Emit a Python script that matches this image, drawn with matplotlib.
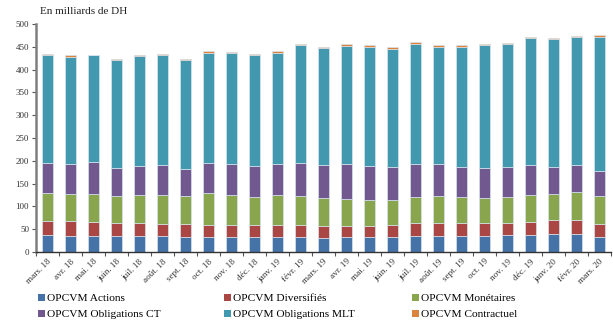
import matplotlib
matplotlib.use("Agg")
import matplotlib.pyplot as plt
import numpy as np

plt.rcParams['font.family'] = ['Liberation Serif', 'DejaVu Serif']

months = ["mars. 18", "avr. 18", "mai. 18", "juin. 18", "juil. 18", "août. 18",
          "sept. 18", "oct. 18", "nov. 18", "déc. 18", "janv. 19", "févr. 19",
          "mars. 19", "avr. 19", "mai. 19", "juin. 19", "juil. 19", "août. 19",
          "sept. 19", "oct. 19", "nov. 19", "déc. 19", "janv. 20", "févr. 20",
          "mars. 20"]

actions = [37, 36, 36, 35, 34, 34, 33, 32, 32, 32, 32, 32, 30, 32, 32, 32, 35,
           36, 35, 35, 37, 37.6, 39, 40.5, 32]
diversifies = [30, 31, 30, 29, 29, 28, 29, 28, 28, 27, 27, 28, 28, 25, 25, 26.6,
               28, 27, 28, 28, 27.4, 29, 30.5, 30.5, 29]
monetaires = [62, 61, 62, 58, 62, 63, 60, 69, 66, 61, 65.6, 62, 60, 60, 56, 56.4,
              57, 59, 57, 56.5, 57.3, 59.4, 58, 60, 62]
oblig_ct = [66, 65, 69, 62, 63, 66, 60, 67, 68, 68, 69.4, 73, 72, 76, 75, 71,
            73.4, 70, 66, 64.5, 63.7, 64.5, 58.5, 58.8, 54.5]
oblig_mlt = [237.5, 235, 234.8, 237, 242.5, 241.5, 239, 240, 242, 244, 242, 258.5,
             257, 259, 261, 260, 262.3, 258.5, 264.5, 271, 271.1, 278.5, 280.6,
             281.9, 294.9]
contractuel = [2.5, 3, 1.2, 2, 2, 2.5, 2, 4, 2, 2.5, 4, 3, 3.5, 4.5, 4, 4.5,
               5.1, 4.5, 3, 2, 2.5, 2, 3.4, 2.8, 3.6]

series = [
    ("OPCVM Actions", actions, "#4572A7"),
    ("OPCVM Diversifiés", diversifies, "#AA4643"),
    ("OPCVM Monétaires", monetaires, "#89A54E"),
    ("OPCVM Obligations CT", oblig_ct, "#71588F"),
    ("OPCVM Obligations MLT", oblig_mlt, "#4198AF"),
    ("OPCVM Contractuel", contractuel, "#DB843D"),
]

fig = plt.figure(figsize=(6.13, 3.25), dpi=100)
ax = fig.add_axes([36 / 613, 1 - 252 / 325, 575 / 613, 228 / 325])

x = np.arange(len(months))
bottom = np.zeros(len(months))
handles = []
for label, vals, color in series:
    vals = np.asarray(vals, dtype=float)
    b = ax.bar(x, vals, width=0.45, bottom=bottom, color=color,
               edgecolor="#d8e4ee", linewidth=0.5, label=label)
    handles.append(b)
    bottom += vals

ax.set_xlim(-0.5, len(months) - 0.5)
ax.set_ylim(0, 500)
ax.set_yticks(np.arange(0, 501, 50))
ax.tick_params(axis='y', labelsize=6.5, length=3, width=0.8, color="#555555",
               pad=2, labelcolor="#333333")

ax.set_xticks(x)
ax.set_xticklabels(months, rotation=45, ha='right', rotation_mode='anchor',
                   fontsize=6.6, color="#333333")
ax.tick_params(axis='x', which='major', length=0, pad=4)
ax.set_xticks(np.arange(-0.5, len(months), 1.0), minor=True)
ax.tick_params(axis='x', which='minor', length=3, width=0.8, color="#555555")

for side in ("top", "right"):
    ax.spines[side].set_visible(False)
ax.spines["left"].set_color("#7f7f7f")
ax.spines["left"].set_linewidth(1.8)
ax.spines["bottom"].set_color("#333333")
ax.spines["bottom"].set_linewidth(1.0)

fig.text(40 / 613, 1 - 12 / 325, "En milliards de DH", fontsize=8,
         va='center', ha='left', color="#222222")

# Legend: three columns of two entries, read row-wise, at fixed x positions
col_x = [33, 219, 407]
for c, x0 in enumerate(col_x):
    hs = [handles[c], handles[c + 3]]
    leg = fig.legend(handles=hs, loc='upper left',
                     bbox_to_anchor=(x0 / 613, 1 - 289 / 325), ncol=1,
                     frameon=False, fontsize=8.2, handlelength=0.65,
                     handleheight=0.65, handletextpad=0.2,
                     labelspacing=0.55, borderaxespad=0, borderpad=0.4)
    for h in leg.legend_handles:
        h.set_edgecolor("none")

fig.savefig("out.png", dpi=100)
